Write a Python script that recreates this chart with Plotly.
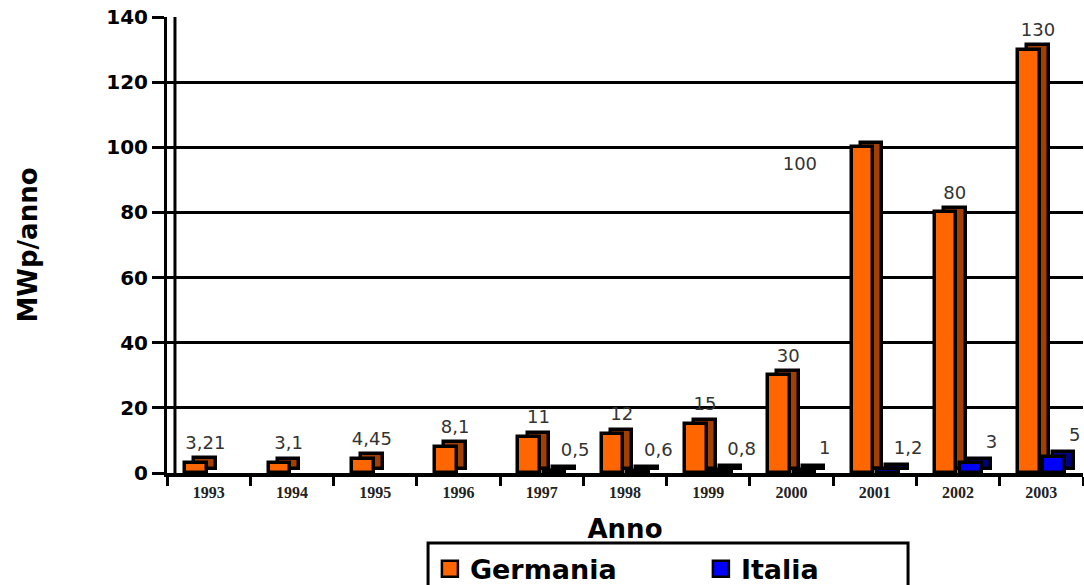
import plotly.graph_objects as go

# Annual new photovoltaic capacity (MWp per year)
anni = ["1993", "1994", "1995", "1996", "1997", "1998", "1999", "2000", "2001", "2002", "2003"]
germania = [3.21, 3.1, 4.45, 8.1, 11, 12, 15, 30, 100, 80, 130]
italia = [None, None, None, None, 0.5, 0.6, 0.8, 1, 1.2, 3, 5]

ORANGE = "#FF6600"
ORANGE_SIDE = "#A33F00"
BLUE = "#0000FF"
BLUE_SIDE = "#000080"

BAR_W = 0.26        # front face width (category units)
DEPTH_X = 0.11      # horizontal extrusion of the pseudo-3D bars
DEPTH_Y = 1.3       # vertical extrusion (data units)
OFF_GER = -0.28
OFF_ITA = 0.025

LIFT = 5.6          # value labels sit this far above the bar top (data units)
LBL_GER_DX = -0.04
LBL_ITA_DX = 0.40


def fmt(v):
    return f"{v:g}".replace(".", ",")


fig = go.Figure()

for name, vals, off, face, side in [
    ("Germania", germania, OFF_GER, ORANGE, ORANGE_SIDE),
    ("Italia", italia, OFF_ITA, BLUE, BLUE_SIDE),
]:
    # extruded back/side face
    fig.add_trace(go.Bar(
        x=anni, y=vals, base=DEPTH_Y, offset=off + DEPTH_X, width=BAR_W,
        marker=dict(color=side, line=dict(color="black", width=3.5)),
        showlegend=False, hoverinfo="skip",
    ))
    # front face
    fig.add_trace(go.Bar(
        x=anni, y=vals, offset=off, width=BAR_W, name=name,
        marker=dict(color=face, line=dict(color="black", width=3.5)),
        showlegend=False,
    ))

# value labels on a hidden numeric axis laid over the category axis
ger_x, ger_y, ger_t = [], [], []
for i, v in enumerate(germania):
    dx, dy = LBL_GER_DX, LIFT
    if v == 100:
        dx, dy = -0.9, -LIFT
    ger_x.append(i + dx)
    ger_y.append(v + dy)
    ger_t.append(fmt(v))
ita_x, ita_y, ita_t = [], [], []
for i, v in enumerate(italia):
    if v is None:
        continue
    ita_x.append(i + LBL_ITA_DX)
    ita_y.append(v + 6.1)
    ita_t.append(fmt(v))

label_font = dict(family="DejaVu Sans", size=18, color="#333333")
for xs, ys, ts in [(ger_x, ger_y, ger_t), (ita_x, ita_y, ita_t)]:
    fig.add_trace(go.Scatter(
        x=xs, y=ys, text=ts, mode="text", textposition="middle center",
        textfont=label_font, xaxis="x2", showlegend=False, hoverinfo="skip",
        cliponaxis=False,
    ))

# legend entries with larger square swatches
for name, face in [("Germania", ORANGE), ("Italia", BLUE)]:
    fig.add_trace(go.Scatter(
        x=[None], y=[None], mode="markers", name=name,
        marker=dict(symbol="square", size=16, color=face,
                    line=dict(color="black", width=2.5)),
    ))

fig.update_layout(
    width=1084, height=585,
    margin=dict(l=167, r=1, t=17, b=112, autoexpand=False),
    paper_bgcolor="white", plot_bgcolor="white",
    barmode="overlay",
    bargap=0,
    shapes=[
        # inner wall line of the pseudo-3D frame
        dict(type="line", xref="paper", yref="paper", x0=0.0087, x1=0.0087,
             y0=0, y1=1, line=dict(color="black", width=3)),
        # legend frame
        dict(type="rect", xref="paper", yref="paper", x0=0.285, x1=0.809,
             y0=-0.1535, y1=-0.28, line=dict(color="black", width=3)),
    ],
    legend=dict(
        orientation="h", x=0.287, xanchor="left", y=-0.157, yanchor="top",
        borderwidth=0, bgcolor="rgba(0,0,0,0)",
        font=dict(family="DejaVu Sans", size=27, color="black", weight="bold"),
        entrywidth=226, itemsizing="trace",
    ),
    xaxis=dict(
        type="category", range=[-0.5, 10.5],
        showline=True, linecolor="black", linewidth=4,
        ticks="outside", tickson="boundaries", ticklen=9, tickwidth=3, tickcolor="black",
        ticklabelstandoff=2,
        tickfont=dict(family="Liberation Serif", size=16, color="#222222", weight="bold"),
        showgrid=False,
        title=dict(text="Anno", standoff=21,
                   font=dict(family="DejaVu Sans", size=26, color="black", weight="bold")),
    ),
    xaxis2=dict(overlaying="x", range=[-0.5, 10.5], visible=False),
    yaxis=dict(
        range=[0, 140], tickvals=[0, 20, 40, 60, 80, 100, 120, 140],
        showline=True, linecolor="black", linewidth=3,
        ticks="outside", ticklen=12, tickwidth=3, tickcolor="black",
        tickfont=dict(family="DejaVu Sans", size=20, color="black", weight="bold"),
        showgrid=True, gridcolor="black", gridwidth=2.5, zeroline=False,
        title=dict(text="MWp/anno", standoff=62,
                   font=dict(family="DejaVu Sans", size=26, color="black", weight="bold")),
    ),
)

fig.write_html("out.html")
